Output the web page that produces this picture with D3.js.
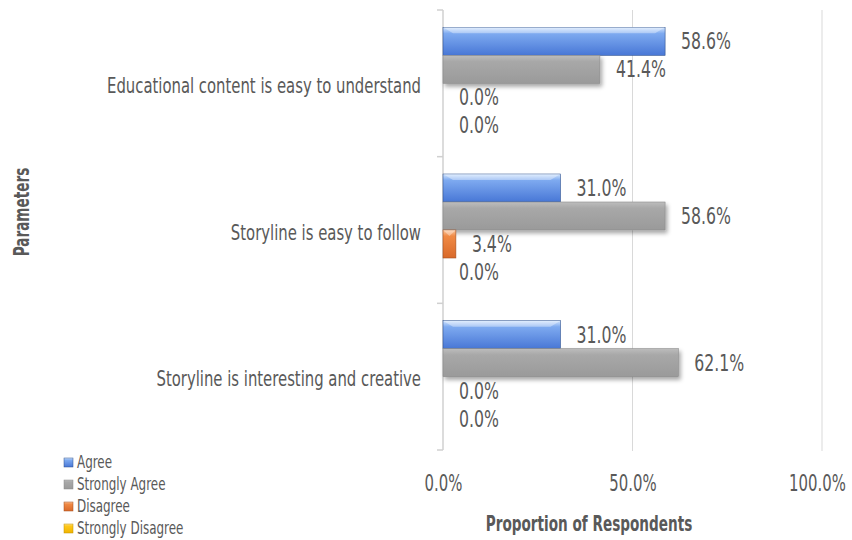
<!DOCTYPE html>
<html>
<head>
<meta charset="utf-8">
<script src="https://cdn.jsdelivr.net/npm/d3@7"></script>
<style>
body{margin:0;background:#fff;}
text{font-family:"DejaVu Sans Condensed","DejaVu Sans",sans-serif;fill:#595959;}
</style>
</head>
<body>
<script>
var categories = ['Educational content is easy to understand','Storyline is easy to follow','Storyline is interesting and creative'];
var series = ['Agree','Strongly Agree','Disagree','Strongly Disagree'];
var agree = [0.586,0.310,0.310];
var stronglyAgree = [0.414,0.586,0.621];
var disagree = [0.000,0.034,0.000];
var stronglyDisagree = [0.000,0.000,0.000];
var xTicks = [0,0.5,1];

var values = [agree,stronglyAgree,disagree,stronglyDisagree];
var colors = {
  'Agree':['#d2e5fd','#7eaaf0','#4877d6','#2f528f'],
  'Strongly Agree':['#bdbdbd','#a8a8a8','#9a9a9a','#8a8a8a'],
  'Disagree':['#fbc59c','#f08a45','#d9692a','#a24e1e'],
  'Strongly Disagree':['#ffe28a','#ffc81a','#f0b400','#bf9000']
};

var width=852,height=540;
var svg=d3.select('body').append('svg').attr('width',width).attr('height',height);
var defs=svg.append('defs');
series.forEach(function(s,i){
  var c=colors[s];
  var g=defs.append('linearGradient').attr('id','grad'+i).attr('x1',0).attr('y1',0).attr('x2',0).attr('y2',1);
  g.append('stop').attr('offset','0%').attr('stop-color',c[0]);
  g.append('stop').attr('offset','22%').attr('stop-color',c[1]);
  g.append('stop').attr('offset','100%').attr('stop-color',c[2]);
});
var f=defs.append('filter').attr('id','shadow').attr('x','-10%').attr('y','-20%').attr('width','130%').attr('height','160%');
f.append('feDropShadow').attr('dx',2).attr('dy',3).attr('stdDeviation',2).attr('flood-color','#000').attr('flood-opacity',0.35);

var x=d3.scaleLinear().domain([0,1]).range([443,822]);
var y=d3.scaleBand().domain(categories).range([10,450]);
var yInner=d3.scaleBand().domain(series).range([0,y.bandwidth()]).paddingOuter(0.62);

// gridlines
svg.append('g').selectAll('line').data(xTicks.slice(1)).join('line')
  .attr('x1',d=>x(d)).attr('x2',d=>x(d)).attr('y1',10).attr('y2',451)
  .attr('stroke','#d9d9d9').attr('stroke-width',1);

// left axis with boundary ticks
var ax=svg.append('g').attr('stroke','#d0d0d0').attr('stroke-width',1.5);
ax.append('line').attr('x1',x(0)).attr('x2',x(0)).attr('y1',10).attr('y2',450);
var bounds=categories.map(c=>y(c)).concat([y(categories[categories.length-1])+y.bandwidth()]);
ax.selectAll('line.tk').data(bounds).join('line').attr('class','tk')
  .attr('x1',x(0)-6).attr('x2',x(0)).attr('y1',d=>d).attr('y2',d=>d);

// bars
var groups=svg.append('g').selectAll('g').data(categories).join('g')
  .attr('transform',d=>'translate(0,'+y(d)+')');
series.forEach(function(s,si){
  groups.each(function(c,ci){
    var v=values[si][ci];
    var g=d3.select(this);
    var by=yInner(s),bh=yInner.bandwidth();
    if(v>0){
      g.append('rect').attr('x',x(0)).attr('y',by).attr('width',x(v)-x(0)).attr('height',bh)
        .attr('fill','url(#grad'+si+')').attr('stroke',colors[s][3]).attr('stroke-width',0.6)
        .attr('filter',s==='Strongly Agree'?'url(#shadow)':null);
      if(s!=='Strongly Agree'){
        var bw=Math.min(10,(x(v)-x(0))/2);
        g.append('path')
          .attr('d','M'+x(0)+','+by+'L'+(x(0)+bw)+','+(by+6)+'L'+(x(v)-bw)+','+(by+6)+'L'+x(v)+','+by+'Z')
          .attr('fill','#ffffff').attr('opacity',0.35);
      }
    }
    g.append('text').attr('x',x(v)+16).attr('y',by+bh/2).attr('dy','0.35em')
      .attr('font-size',23).attr('data-k',0.76).text(d3.format('.1%')(v));
  });
});

// category labels
svg.append('g').selectAll('text').data(categories).join('text')
  .attr('x',421).attr('y',d=>y(d)+y.bandwidth()/2+2).attr('dy','0.35em')
  .attr('text-anchor','end').attr('font-size',22).attr('data-k',0.75).text(d=>d);

// x axis labels
var xa=svg.append('g').attr('transform','translate(0,480)')
  .call(d3.axisBottom(x).tickValues(xTicks).tickFormat(d3.format('.1%')).tickSize(0));
xa.select('.domain').remove();
xa.selectAll('text').attr('font-size',23).attr('data-k',0.72).attr('dy','0').attr('dominant-baseline','central')
  .style('font-family','"DejaVu Sans Condensed","DejaVu Sans",sans-serif').attr('fill','#595959');
xa.selectAll('.tick').filter(d=>d===1).select('text').attr('x',-5);

// axis titles
svg.append('text').attr('x',589).attr('y',524).attr('text-anchor','middle').attr('dominant-baseline','central')
  .attr('font-size',21).attr('font-weight','bold').attr('data-k',0.72).text('Proportion of Respondents');
svg.append('text').attr('transform','translate(22,212) rotate(-90)').attr('text-anchor','middle')
  .attr('dominant-baseline','central').attr('font-size',21).attr('font-weight','bold').attr('data-k',0.72).text('Parameters');

// legend
var leg=svg.append('g').selectAll('g').data(series).join('g')
  .attr('transform',(d,i)=>'translate(64,'+(462+i*22)+')');
leg.append('rect').attr('x',0).attr('y',-4).attr('width',9).attr('height',9)
  .attr('fill',(d,i)=>'url(#grad'+i+')').attr('stroke',d=>colors[d][3]).attr('stroke-width',0.5);
leg.append('text').attr('x',13).attr('y',0).attr('dy','0.35em').attr('font-size',17).attr('data-k',0.78).text(d=>d);

// condense all text to mimic the narrow face of the original
svg.selectAll('text').each(function(){
  var k=+this.getAttribute('data-k')||0.78;
  var len=this.getComputedTextLength();
  d3.select(this).attr('textLength',len*k).attr('lengthAdjust','spacingAndGlyphs');
});
</script>
</body>
</html>
